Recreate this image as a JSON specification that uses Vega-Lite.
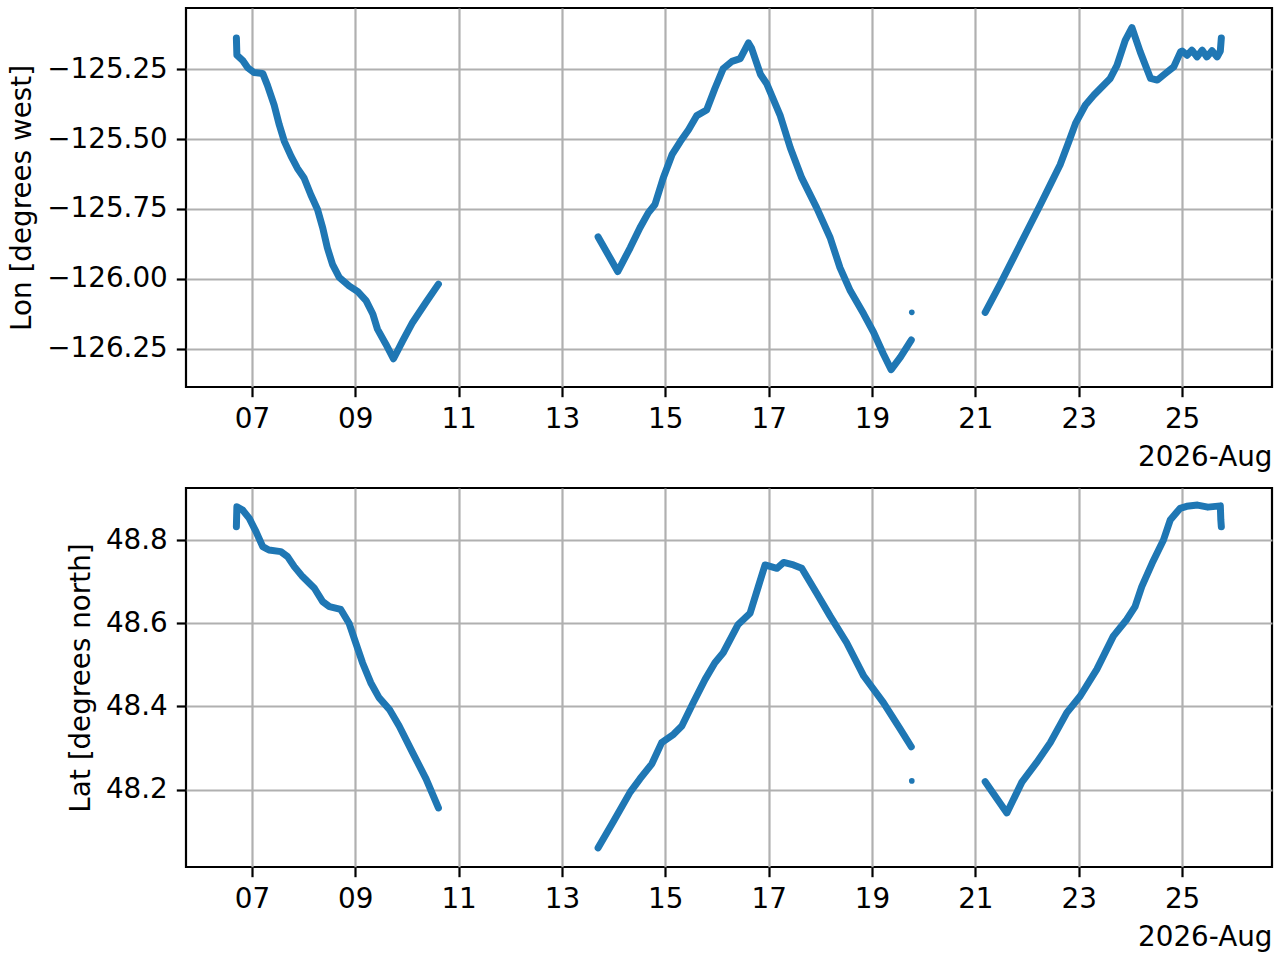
{
  "$schema": "https://vega.github.io/schema/vega-lite/v6.json",
  "autosize": {"type": "pad"},
  "padding": {"left": 7, "top": 6, "right": 5, "bottom": 5},
  "bounds": "flush",
  "spacing": 101,
  "background": "white",
  "config": {
    "font": "DejaVu Sans",
    "view": {"stroke": "black", "strokeWidth": 2.2},
    "axis": {
      "labelFont": "DejaVu Sans",
      "labelFontSize": 27.8,
      "labelColor": "black",
      "titleFont": "DejaVu Sans",
      "titleFontSize": 27.8,
      "titleFontWeight": "normal",
      "titleColor": "black",
      "domain": false,
      "grid": true,
      "gridColor": "#b0b0b0",
      "gridWidth": 2.2,
      "gridOpacity": 1,
      "tickColor": "black",
      "tickWidth": 2.2,
      "tickSize": 9.7,
      "labelPadding": 9,
      "titlePadding": 10
    }
  },
  "datasets": {
    "lon": [
      {"t": "2026-08-06T16:48", "v": -125.138, "s": "a"},
      {"t": "2026-08-06T17:02", "v": -125.200, "s": "a"},
      {"t": "2026-08-06T19:41", "v": -125.218, "s": "a"},
      {"t": "2026-08-06T22:05", "v": -125.245, "s": "a"},
      {"t": "2026-08-07T00:58", "v": -125.262, "s": "a"},
      {"t": "2026-08-07T05:02", "v": -125.265, "s": "a"},
      {"t": "2026-08-07T07:12", "v": -125.307, "s": "a"},
      {"t": "2026-08-07T10:19", "v": -125.378, "s": "a"},
      {"t": "2026-08-07T12:43", "v": -125.449, "s": "a"},
      {"t": "2026-08-07T15:07", "v": -125.509, "s": "a"},
      {"t": "2026-08-07T18:14", "v": -125.562, "s": "a"},
      {"t": "2026-08-07T21:07", "v": -125.604, "s": "a"},
      {"t": "2026-08-08T00:14", "v": -125.639, "s": "a"},
      {"t": "2026-08-08T03:22", "v": -125.699, "s": "a"},
      {"t": "2026-08-08T06:29", "v": -125.752, "s": "a"},
      {"t": "2026-08-08T08:53", "v": -125.817, "s": "a"},
      {"t": "2026-08-08T11:02", "v": -125.889, "s": "a"},
      {"t": "2026-08-08T13:26", "v": -125.948, "s": "a"},
      {"t": "2026-08-08T16:34", "v": -125.995, "s": "a"},
      {"t": "2026-08-08T21:07", "v": -126.025, "s": "a"},
      {"t": "2026-08-09T01:12", "v": -126.046, "s": "a"},
      {"t": "2026-08-09T05:02", "v": -126.078, "s": "a"},
      {"t": "2026-08-09T08:10", "v": -126.126, "s": "a"},
      {"t": "2026-08-09T10:19", "v": -126.180, "s": "a"},
      {"t": "2026-08-09T14:10", "v": -126.233, "s": "a"},
      {"t": "2026-08-09T17:46", "v": -126.286, "s": "a"},
      {"t": "2026-08-09T22:05", "v": -126.221, "s": "a"},
      {"t": "2026-08-10T02:38", "v": -126.156, "s": "a"},
      {"t": "2026-08-10T08:53", "v": -126.084, "s": "a"},
      {"t": "2026-08-10T14:38", "v": -126.019, "s": "a"},
      {"t": "2026-08-13T16:48", "v": -125.850, "s": "b"},
      {"t": "2026-08-14T01:55", "v": -125.974, "s": "b"},
      {"t": "2026-08-14T07:41", "v": -125.889, "s": "b"},
      {"t": "2026-08-14T12:14", "v": -125.817, "s": "b"},
      {"t": "2026-08-14T16:05", "v": -125.764, "s": "b"},
      {"t": "2026-08-14T19:12", "v": -125.734, "s": "b"},
      {"t": "2026-08-14T23:02", "v": -125.639, "s": "b"},
      {"t": "2026-08-15T03:07", "v": -125.556, "s": "b"},
      {"t": "2026-08-15T06:58", "v": -125.509, "s": "b"},
      {"t": "2026-08-15T10:48", "v": -125.467, "s": "b"},
      {"t": "2026-08-15T14:38", "v": -125.416, "s": "b"},
      {"t": "2026-08-15T19:12", "v": -125.396, "s": "b"},
      {"t": "2026-08-15T23:02", "v": -125.319, "s": "b"},
      {"t": "2026-08-16T02:53", "v": -125.248, "s": "b"},
      {"t": "2026-08-16T06:58", "v": -125.222, "s": "b"},
      {"t": "2026-08-16T10:48", "v": -125.212, "s": "b"},
      {"t": "2026-08-16T14:38", "v": -125.156, "s": "b"},
      {"t": "2026-08-16T16:05", "v": -125.175, "s": "b"},
      {"t": "2026-08-16T20:10", "v": -125.268, "s": "b"},
      {"t": "2026-08-16T23:02", "v": -125.301, "s": "b"},
      {"t": "2026-08-17T05:17", "v": -125.414, "s": "b"},
      {"t": "2026-08-17T10:05", "v": -125.532, "s": "b"},
      {"t": "2026-08-17T15:22", "v": -125.639, "s": "b"},
      {"t": "2026-08-17T22:19", "v": -125.746, "s": "b"},
      {"t": "2026-08-18T04:34", "v": -125.853, "s": "b"},
      {"t": "2026-08-18T09:07", "v": -125.960, "s": "b"},
      {"t": "2026-08-18T13:55", "v": -126.043, "s": "b"},
      {"t": "2026-08-18T20:10", "v": -126.126, "s": "b"},
      {"t": "2026-08-19T00:43", "v": -126.191, "s": "b"},
      {"t": "2026-08-19T05:17", "v": -126.269, "s": "b"},
      {"t": "2026-08-19T08:53", "v": -126.325, "s": "b"},
      {"t": "2026-08-19T13:12", "v": -126.280, "s": "b"},
      {"t": "2026-08-19T18:14", "v": -126.219, "s": "b"},
      {"t": "2026-08-19T18:29", "v": -126.120, "s": "dot"},
      {"t": "2026-08-21T04:34", "v": -126.120, "s": "c"},
      {"t": "2026-08-21T11:31", "v": -126.019, "s": "c"},
      {"t": "2026-08-21T17:46", "v": -125.924, "s": "c"},
      {"t": "2026-08-22T00:00", "v": -125.829, "s": "c"},
      {"t": "2026-08-22T06:14", "v": -125.734, "s": "c"},
      {"t": "2026-08-22T10:48", "v": -125.663, "s": "c"},
      {"t": "2026-08-22T15:22", "v": -125.592, "s": "c"},
      {"t": "2026-08-22T19:26", "v": -125.509, "s": "c"},
      {"t": "2026-08-22T22:34", "v": -125.443, "s": "c"},
      {"t": "2026-08-23T03:07", "v": -125.378, "s": "c"},
      {"t": "2026-08-23T06:58", "v": -125.343, "s": "c"},
      {"t": "2026-08-23T14:38", "v": -125.283, "s": "c"},
      {"t": "2026-08-23T17:46", "v": -125.236, "s": "c"},
      {"t": "2026-08-23T21:36", "v": -125.147, "s": "c"},
      {"t": "2026-08-24T00:43", "v": -125.101, "s": "c"},
      {"t": "2026-08-24T04:34", "v": -125.188, "s": "c"},
      {"t": "2026-08-24T09:22", "v": -125.283, "s": "c"},
      {"t": "2026-08-24T12:29", "v": -125.289, "s": "c"},
      {"t": "2026-08-24T16:19", "v": -125.265, "s": "c"},
      {"t": "2026-08-24T20:10", "v": -125.241, "s": "c"},
      {"t": "2026-08-24T23:17", "v": -125.188, "s": "c"},
      {"t": "2026-08-25T00:00", "v": -125.185, "s": "c"},
      {"t": "2026-08-25T02:24", "v": -125.200, "s": "c"},
      {"t": "2026-08-25T04:34", "v": -125.182, "s": "c"},
      {"t": "2026-08-25T06:58", "v": -125.206, "s": "c"},
      {"t": "2026-08-25T09:22", "v": -125.182, "s": "c"},
      {"t": "2026-08-25T11:31", "v": -125.206, "s": "c"},
      {"t": "2026-08-25T13:55", "v": -125.184, "s": "c"},
      {"t": "2026-08-25T16:19", "v": -125.206, "s": "c"},
      {"t": "2026-08-25T17:46", "v": -125.185, "s": "c"},
      {"t": "2026-08-25T18:14", "v": -125.138, "s": "c"}
    ],
    "lat": [
      {"t": "2026-08-06T16:48", "v": 48.832, "s": "a"},
      {"t": "2026-08-06T17:02", "v": 48.880, "s": "a"},
      {"t": "2026-08-06T19:41", "v": 48.872, "s": "a"},
      {"t": "2026-08-06T22:48", "v": 48.852, "s": "a"},
      {"t": "2026-08-07T01:55", "v": 48.820, "s": "a"},
      {"t": "2026-08-07T05:02", "v": 48.784, "s": "a"},
      {"t": "2026-08-07T07:55", "v": 48.776, "s": "a"},
      {"t": "2026-08-07T13:26", "v": 48.772, "s": "a"},
      {"t": "2026-08-07T16:34", "v": 48.760, "s": "a"},
      {"t": "2026-08-07T19:41", "v": 48.736, "s": "a"},
      {"t": "2026-08-07T23:31", "v": 48.712, "s": "a"},
      {"t": "2026-08-08T05:02", "v": 48.684, "s": "a"},
      {"t": "2026-08-08T08:53", "v": 48.652, "s": "a"},
      {"t": "2026-08-08T12:00", "v": 48.640, "s": "a"},
      {"t": "2026-08-08T17:17", "v": 48.633, "s": "a"},
      {"t": "2026-08-08T21:07", "v": 48.600, "s": "a"},
      {"t": "2026-08-09T00:14", "v": 48.553, "s": "a"},
      {"t": "2026-08-09T03:22", "v": 48.505, "s": "a"},
      {"t": "2026-08-09T07:12", "v": 48.457, "s": "a"},
      {"t": "2026-08-09T11:02", "v": 48.421, "s": "a"},
      {"t": "2026-08-09T15:50", "v": 48.393, "s": "a"},
      {"t": "2026-08-09T20:24", "v": 48.353, "s": "a"},
      {"t": "2026-08-10T02:38", "v": 48.289, "s": "a"},
      {"t": "2026-08-10T08:53", "v": 48.226, "s": "a"},
      {"t": "2026-08-10T14:38", "v": 48.156, "s": "a"},
      {"t": "2026-08-13T16:48", "v": 48.060, "s": "b"},
      {"t": "2026-08-13T23:46", "v": 48.122, "s": "b"},
      {"t": "2026-08-14T07:41", "v": 48.194, "s": "b"},
      {"t": "2026-08-14T12:14", "v": 48.226, "s": "b"},
      {"t": "2026-08-14T17:46", "v": 48.262, "s": "b"},
      {"t": "2026-08-14T22:19", "v": 48.313, "s": "b"},
      {"t": "2026-08-15T03:50", "v": 48.333, "s": "b"},
      {"t": "2026-08-15T07:41", "v": 48.353, "s": "b"},
      {"t": "2026-08-15T12:58", "v": 48.409, "s": "b"},
      {"t": "2026-08-15T18:29", "v": 48.465, "s": "b"},
      {"t": "2026-08-15T23:02", "v": 48.505, "s": "b"},
      {"t": "2026-08-16T02:53", "v": 48.529, "s": "b"},
      {"t": "2026-08-16T09:50", "v": 48.597, "s": "b"},
      {"t": "2026-08-16T15:22", "v": 48.624, "s": "b"},
      {"t": "2026-08-16T19:12", "v": 48.688, "s": "b"},
      {"t": "2026-08-16T22:19", "v": 48.740, "s": "b"},
      {"t": "2026-08-17T03:50", "v": 48.732, "s": "b"},
      {"t": "2026-08-17T06:58", "v": 48.746, "s": "b"},
      {"t": "2026-08-17T11:31", "v": 48.740, "s": "b"},
      {"t": "2026-08-17T15:22", "v": 48.732, "s": "b"},
      {"t": "2026-08-17T22:19", "v": 48.672, "s": "b"},
      {"t": "2026-08-18T04:34", "v": 48.617, "s": "b"},
      {"t": "2026-08-18T12:14", "v": 48.553, "s": "b"},
      {"t": "2026-08-18T20:10", "v": 48.473, "s": "b"},
      {"t": "2026-08-19T05:17", "v": 48.409, "s": "b"},
      {"t": "2026-08-19T13:12", "v": 48.345, "s": "b"},
      {"t": "2026-08-19T18:14", "v": 48.303, "s": "b"},
      {"t": "2026-08-19T18:29", "v": 48.221, "s": "dot"},
      {"t": "2026-08-21T04:34", "v": 48.219, "s": "c"},
      {"t": "2026-08-21T14:38", "v": 48.144, "s": "c"},
      {"t": "2026-08-21T21:36", "v": 48.218, "s": "c"},
      {"t": "2026-08-22T04:34", "v": 48.266, "s": "c"},
      {"t": "2026-08-22T10:48", "v": 48.313, "s": "c"},
      {"t": "2026-08-22T18:29", "v": 48.385, "s": "c"},
      {"t": "2026-08-23T00:43", "v": 48.425, "s": "c"},
      {"t": "2026-08-23T08:24", "v": 48.489, "s": "c"},
      {"t": "2026-08-23T16:05", "v": 48.569, "s": "c"},
      {"t": "2026-08-23T22:19", "v": 48.609, "s": "c"},
      {"t": "2026-08-24T02:10", "v": 48.640, "s": "c"},
      {"t": "2026-08-24T05:17", "v": 48.688, "s": "c"},
      {"t": "2026-08-24T10:05", "v": 48.744, "s": "c"},
      {"t": "2026-08-24T15:22", "v": 48.800, "s": "c"},
      {"t": "2026-08-24T18:29", "v": 48.848, "s": "c"},
      {"t": "2026-08-24T23:02", "v": 48.876, "s": "c"},
      {"t": "2026-08-25T02:10", "v": 48.881, "s": "c"},
      {"t": "2026-08-25T07:12", "v": 48.884, "s": "c"},
      {"t": "2026-08-25T12:00", "v": 48.879, "s": "c"},
      {"t": "2026-08-25T17:46", "v": 48.882, "s": "c"},
      {"t": "2026-08-25T18:00", "v": 48.848, "s": "c"},
      {"t": "2026-08-25T18:14", "v": 48.832, "s": "c"}
    ]
  },
  "vconcat": [
    {
      "width": 1086,
      "height": 379,
      "data": {"name": "lon"},
      "layer": [
        {
          "transform": [{"filter": "datum.s != 'dot'"}],
          "mark": {"type": "line", "color": "#1f77b4", "strokeWidth": 7, "strokeCap": "round", "strokeJoin": "round"},
          "encoding": {
            "x": {"field": "t", "type": "temporal",
                  "scale": {"domain": [{"year": 2026, "month": 8, "date": 5, "hours": 17, "minutes": 24}, {"year": 2026, "month": 8, "date": 26, "hours": 17, "minutes": 46}]},
                  "axis": {"tickCount": {"interval": "day", "step": 2}, "format": "%d", "title": "2026-Aug", "titleAnchor": "end", "labelFlush": false}},
            "y": {"field": "v", "type": "quantitative",
                  "scale": {"domain": [-126.387, -125.031], "nice": false, "zero": false},
                  "axis": {"values": [-126.25, -126, -125.75, -125.5, -125.25], "format": ".2f", "title": "Lon [degrees west]"}},
            "detail": {"field": "s"}
          }
        },
        {
          "transform": [{"filter": "datum.s == 'dot'"}],
          "mark": {"type": "point", "filled": true, "size": 32, "color": "#1f77b4", "opacity": 1},
          "encoding": {
            "x": {"field": "t", "type": "temporal"},
            "y": {"field": "v", "type": "quantitative"}
          }
        }
      ]
    },
    {
      "width": 1086,
      "height": 379,
      "data": {"name": "lat"},
      "layer": [
        {
          "transform": [{"filter": "datum.s != 'dot'"}],
          "mark": {"type": "line", "color": "#1f77b4", "strokeWidth": 7, "strokeCap": "round", "strokeJoin": "round"},
          "encoding": {
            "x": {"field": "t", "type": "temporal",
                  "scale": {"domain": [{"year": 2026, "month": 8, "date": 5, "hours": 17, "minutes": 24}, {"year": 2026, "month": 8, "date": 26, "hours": 17, "minutes": 46}]},
                  "axis": {"tickCount": {"interval": "day", "step": 2}, "format": "%d", "title": "2026-Aug", "titleAnchor": "end", "labelFlush": false}},
            "y": {"field": "v", "type": "quantitative",
                  "scale": {"domain": [48.014, 48.925], "nice": false, "zero": false},
                  "axis": {"values": [48.2, 48.4, 48.6, 48.8], "format": ".1f", "title": "Lat [degrees north]"}},
            "detail": {"field": "s"}
          }
        },
        {
          "transform": [{"filter": "datum.s == 'dot'"}],
          "mark": {"type": "point", "filled": true, "size": 32, "color": "#1f77b4", "opacity": 1},
          "encoding": {
            "x": {"field": "t", "type": "temporal"},
            "y": {"field": "v", "type": "quantitative"}
          }
        }
      ]
    }
  ]
}
